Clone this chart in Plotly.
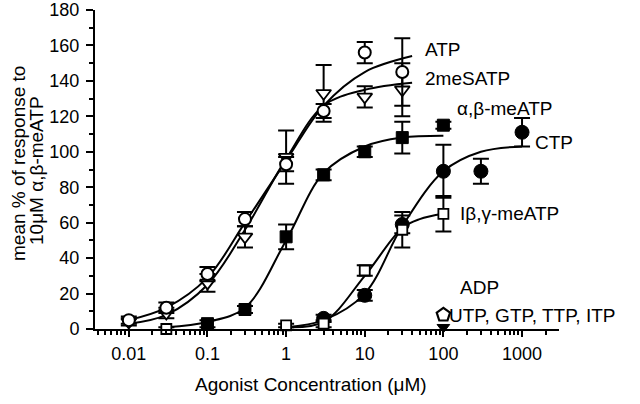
import plotly.graph_objects as go

# ---------------- data ----------------
atp_conc = [0.01, 0.03, 0.1, 0.3, 1, 3, 10, 30]
atp_val = [5, 12, 31, 62, 93, 123, 156, 145]
atp_err = [2, 3, 4, 4, 4, 4, 6, 19]

mes_conc = [0.01, 0.03, 0.1, 0.3, 1, 3, 10, 30]
mes_val = [4, 9, 26, 52, 97, 133, 131, 135]
mes_err = [2, 3, 5, 6, 15, 16, 6, 15]

ab_conc = [0.1, 0.3, 1, 3, 10, 30, 100]
ab_val = [3, 11, 52, 87, 100, 108, 115]
ab_err = [2, 2, 7, 3, 3, 9, 2]

ctp_conc = [3, 10, 30, 100, 300, 1000]
ctp_val = [6, 19, 59, 89, 89, 111]
ctp_err = [2, 3, 5, 15, 7, 8]

ibg_conc = [0.03, 1, 3, 10, 30, 100]
ibg_val = [0, 2, 3, 33, 56, 65]
ibg_err = [1, 1, 2, 3, 10, 10]

adp_conc = [100]
adp_val = [8]
utp_conc = [100]
utp_val = [1]

# fitted curves
atp_fit_x = [0.01, 0.03, 0.1, 0.3, 1, 3, 10, 40]
atp_fit_y = [5, 12, 29, 60, 95, 126, 145, 154]
mes_fit_x = [0.01, 0.03, 0.1, 0.3, 1, 3, 10, 40]
mes_fit_y = [3, 8, 25, 56, 96, 126, 135, 139]
ab_fit_x = [0.03, 0.1, 0.3, 1, 3, 10, 30, 100]
ab_fit_y = [1, 4, 12, 50, 88, 103, 108, 109]
ctp_fit_x = [1, 3, 10, 30, 100, 300, 1000]
ctp_fit_y = [1, 5, 20, 58, 89, 100, 103]
ibg_fit_x = [1, 3, 10, 30, 50, 100]
ibg_fit_y = [1, 4, 30, 57, 62, 65]

x_tick_vals = [0.01, 0.1, 1, 10, 100, 1000]
x_tick_text = ["0.01", "0.1", "1", "10", "100", "1000"]
y_tick_vals = [0, 20, 40, 60, 80, 100, 120, 140, 160, 180]

# ---------------- figure ----------------
FONT = "Liberation Sans, Arial, sans-serif"
W, H = 640, 404
L, R, T, B = 95, 81, 10, 75

fig = go.Figure()

for fx, fy in [(atp_fit_x, atp_fit_y), (mes_fit_x, mes_fit_y), (ab_fit_x, ab_fit_y),
               (ctp_fit_x, ctp_fit_y), (ibg_fit_x, ibg_fit_y)]:
    fig.add_trace(go.Scatter(x=fx, y=fy, mode="lines", line=dict(color="black", width=2, shape="spline", smoothing=1.0),
                             hoverinfo="skip", showlegend=False, cliponaxis=False))

def pts(x, y, err, symbol, size, fill, lw=2):
    e = dict(type="data", array=err, visible=True, color="black", thickness=2, width=8) if err else None
    fig.add_trace(go.Scatter(x=x, y=y, mode="markers", error_y=e,
                             marker=dict(symbol=symbol, size=size, color=fill, line=dict(color="black", width=lw)),
                             showlegend=False, cliponaxis=False))

pts(ab_conc, ab_val, ab_err, "square", 12, "black", 1)
pts(ctp_conc, ctp_val, ctp_err, "circle", 14, "black", 1)
pts(ibg_conc, ibg_val, ibg_err, "square", 10, "white", 1.8)
pts(mes_conc, mes_val, mes_err, "triangle-down", 13, "white", 1.8)
pts(atp_conc, atp_val, atp_err, "circle", 12, "white", 2)
pts(utp_conc, utp_val, None, "triangle-down", 11, "black", 1)
pts(adp_conc, adp_val, None, "pentagon", 14, "white", 2.2)

pw = W - L - R
ph = H - T - B
def px(x):
    return (x - L) / pw
def py(y):
    return (H - B - y) / ph

labels = [
    ("ATP", 423, 50), ("2meSATP", 423, 78), ("α,β-meATP", 455, 108), ("CTP", 533, 143),
    ("Iβ,γ-meATP", 458, 213), ("ADP", 458, 287), ("UTP, GTP, TTP, ITP", 447, 315),
]
for txt, x, y in labels:
    fig.add_annotation(text=txt, x=px(x), y=py(y), xref="paper", yref="paper", xanchor="left", yanchor="middle",
                       showarrow=False, font=dict(family=FONT, size=19, color="black"))

fig.add_annotation(text="Agonist Concentration (μM)", x=px(311), y=py(384), xref="paper", yref="paper",
                   xanchor="center", yanchor="middle", showarrow=False, font=dict(family=FONT, size=19, color="black"))
fig.add_annotation(text="mean % of response to", x=px(18), y=py(164), xref="paper", yref="paper",
                   xanchor="center", yanchor="middle", textangle=-90, showarrow=False,
                   font=dict(family=FONT, size=19, color="black"))
fig.add_annotation(text="10μM α,β-meATP", x=px(36), y=py(171), xref="paper", yref="paper",
                   xanchor="center", yanchor="middle", textangle=-90, showarrow=False,
                   font=dict(family=FONT, size=19, color="black"))

minor_x = [m * 10 ** k for k in range(-3, 4) for m in range(2, 10)]

fig.update_layout(
    width=W, height=H, margin=dict(l=L, r=R, t=T, b=B, autoexpand=False),
    paper_bgcolor="white", plot_bgcolor="white",
    font=dict(family=FONT, size=18, color="black"),
    xaxis=dict(type="log", range=[-2.43, 3.47], showgrid=False, zeroline=False, showline=True, automargin=False,
               linecolor="black", linewidth=2, ticks="outside", ticklen=6, tickwidth=2, tickcolor="black",
               tickvals=x_tick_vals, ticktext=x_tick_text, tickfont=dict(size=18), ticklabelstandoff=1,
               minor=dict(tickvals=minor_x, ticks="outside", ticklen=4, tickwidth=1.5, tickcolor="black")),
    yaxis=dict(range=[0, 180], showgrid=False, zeroline=False, showline=True, automargin=False,
               linecolor="black", linewidth=2, ticks="outside", ticklen=7, tickwidth=2, tickcolor="black",
               tickvals=y_tick_vals, tickfont=dict(size=18), ticklabelstandoff=3, ticklabeloverflow="allow",
               minor=dict(dtick=10, ticks="outside", ticklen=4, tickwidth=1.5, tickcolor="black")),
)

fig.write_html("out.html", config={"displayModeBar": False}, post_script="document.body.style.margin='0';")
